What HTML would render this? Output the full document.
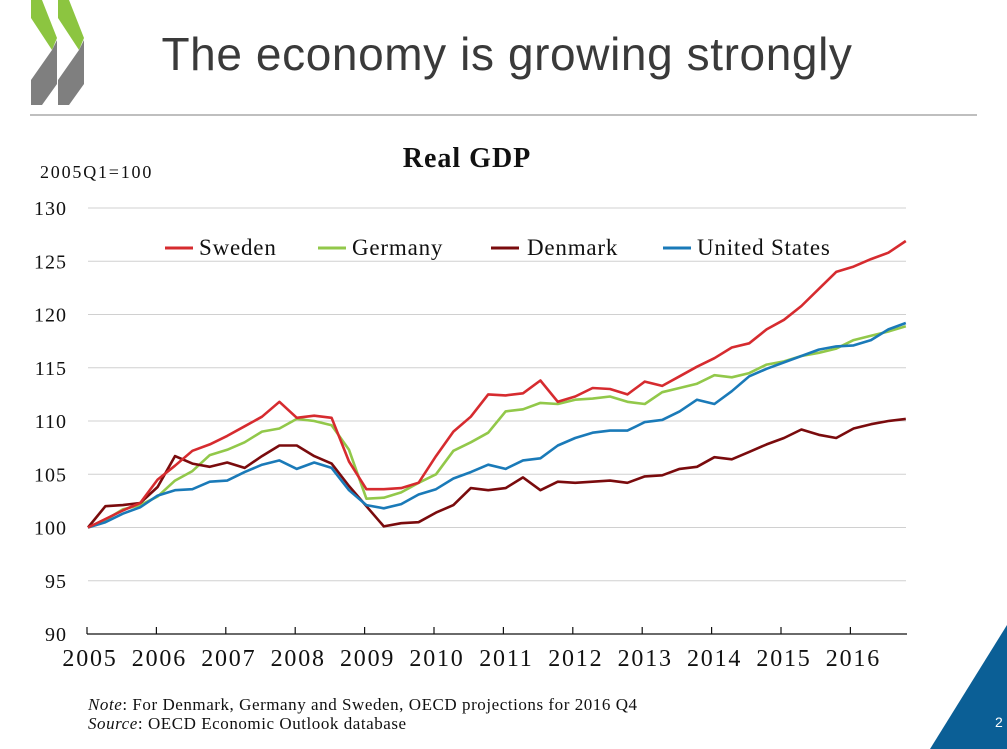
<!DOCTYPE html>
<html><head><meta charset="utf-8"><style>
html,body{margin:0;padding:0;background:#fff}
body{width:1007px;height:749px;overflow:hidden;position:relative}
</style></head><body>
<svg id="s" width="1007" height="749" xmlns="http://www.w3.org/2000/svg" style="position:absolute;left:0;top:0">
<polygon points="31,0 42,0 57,38 52,50 31,18" fill="#8cc540"/>
<polygon points="57,40 57,84 42,105 31,105 31,80 52,50" fill="#7f7f7f"/>
<polygon points="58,0 69,0 84,38 79,50 58,18" fill="#8cc540"/>
<polygon points="84,40 84,84 69,105 58,105 58,80 79,50" fill="#7f7f7f"/>
<line x1="30" y1="115" x2="977" y2="115" stroke="#7f7f7f" stroke-width="1"/>
<text x="507" y="70" text-anchor="middle" font-family="Liberation Sans, sans-serif" font-size="46" letter-spacing="0.6" fill="#3a3a3a">The economy is growing strongly</text>
<text x="467" y="167" text-anchor="middle" font-family="Liberation Serif, serif" font-size="28" letter-spacing="1" font-weight="bold" fill="#111">Real GDP</text>
<text x="40" y="178" font-family="Liberation Serif, serif" font-size="18" letter-spacing="1.8" fill="#111">2005Q1=100</text>
<g id="grid"></g>
<g id="series"></g>
<g font-family="Liberation Serif, serif" font-size="23" letter-spacing="0.8" fill="#111">
<line x1="165" y1="248" x2="193" y2="248" stroke="#d62b2f" stroke-width="3"/><text x="199" y="255">Sweden</text>
<line x1="318" y1="248" x2="346" y2="248" stroke="#92c84a" stroke-width="3"/><text x="352" y="255">Germany</text>
<line x1="491" y1="248" x2="519" y2="248" stroke="#7a0b0d" stroke-width="3"/><text x="527" y="255">Denmark</text>
<line x1="663" y1="248" x2="691" y2="248" stroke="#1a7ab8" stroke-width="3"/><text x="697" y="255">United States</text>
</g>
<text x="88" y="710" font-family="Liberation Serif, serif" font-size="17" letter-spacing="0.55" fill="#111"><tspan font-style="italic">Note</tspan>: For Denmark, Germany and Sweden, OECD projections for 2016 Q4</text>
<text x="88" y="729" font-family="Liberation Serif, serif" font-size="17" letter-spacing="0.55" fill="#111"><tspan font-style="italic">Source</tspan>: OECD Economic Outlook database</text>
<polygon points="1007,625 1007,749 930,749" fill="#0b5f96"/>
<text x="995" y="727" font-family="Liberation Sans, sans-serif" font-size="14" fill="#fff">2</text>
</svg>
<script>
var NS="http://www.w3.org/2000/svg";
function el(t,a,p,txt){var e=document.createElementNS(NS,t);for(var k in a)e.setAttribute(k,a[k]);if(txt)e.textContent=txt;p.appendChild(e);return e;}
var g=document.getElementById('grid'),sg=document.getElementById('series');
function Y(v){return 527.5-(v-100)*10.65;}
function X(i){return 88+i*17.4;}
for(var v=90;v<=130;v+=5){
 if(v>90) el('line',{x1:88,x2:906,y1:Y(v),y2:Y(v),stroke:'#d0d0d0','stroke-width':1},g);
 el('text',{x:67,y:Y(v)+7,'text-anchor':'end','font-family':'Liberation Serif, serif','font-size':20,'letter-spacing':1,fill:'#111'},g,String(v));
}
el('line',{x1:87,x2:907,y1:634,y2:634,stroke:'#111','stroke-width':1.3},g);
for(var y=0;y<12;y++){var x=87+y*69.4;
 el('line',{x1:x,x2:x,y1:627,y2:634,stroke:'#111','stroke-width':1.2},g);
 el('text',{x:x+3,y:666,'text-anchor':'middle','font-family':'Liberation Serif, serif','font-size':24,'letter-spacing':1.8,fill:'#111'},g,String(2005+y));
}
var D={
'#92c84a':[100,100.7,101.7,102.1,102.9,104.4,105.3,106.8,107.3,108.0,109.0,109.3,110.2,110.0,109.6,107.3,102.7,102.8,103.3,104.2,105.0,107.2,108.0,108.9,110.9,111.1,111.7,111.6,112.0,112.1,112.3,111.8,111.6,112.7,113.1,113.5,114.3,114.1,114.5,115.3,115.6,116.1,116.4,116.8,117.6,118.0,118.4,118.9],
'#7a0b0d':[100,102.0,102.1,102.3,103.8,106.7,106.0,105.7,106.1,105.6,106.7,107.7,107.7,106.7,106.0,103.9,102.0,100.1,100.4,100.5,101.4,102.1,103.7,103.5,103.7,104.7,103.5,104.3,104.2,104.3,104.4,104.2,104.8,104.9,105.5,105.7,106.6,106.4,107.1,107.8,108.4,109.2,108.7,108.4,109.3,109.7,110.0,110.2],
'#1a7ab8':[100,100.5,101.3,101.9,103.0,103.5,103.6,104.3,104.4,105.2,105.9,106.3,105.5,106.1,105.6,103.5,102.1,101.8,102.2,103.1,103.6,104.6,105.2,105.9,105.5,106.3,106.5,107.7,108.4,108.9,109.1,109.1,109.9,110.1,110.9,112.0,111.6,112.8,114.2,114.9,115.5,116.1,116.7,117.0,117.1,117.6,118.6,119.2],
'#d62b2f':[100,100.8,101.6,102.3,104.5,105.8,107.2,107.8,108.6,109.5,110.4,111.8,110.3,110.5,110.3,106.2,103.6,103.6,103.7,104.2,106.7,109.0,110.4,112.5,112.4,112.6,113.8,111.8,112.3,113.1,113.0,112.5,113.7,113.3,114.2,115.1,115.9,116.9,117.3,118.6,119.5,120.8,122.4,124.0,124.5,125.2,125.8,126.9]};
for(var c in D){var p=D[c].map(function(v,i){return X(i).toFixed(1)+','+Y(v).toFixed(1)}).join(' ');
 el('polyline',{points:p,fill:'none',stroke:c,'stroke-width':2.6,'stroke-linejoin':'round'},sg);}
</script>
</body></html>
